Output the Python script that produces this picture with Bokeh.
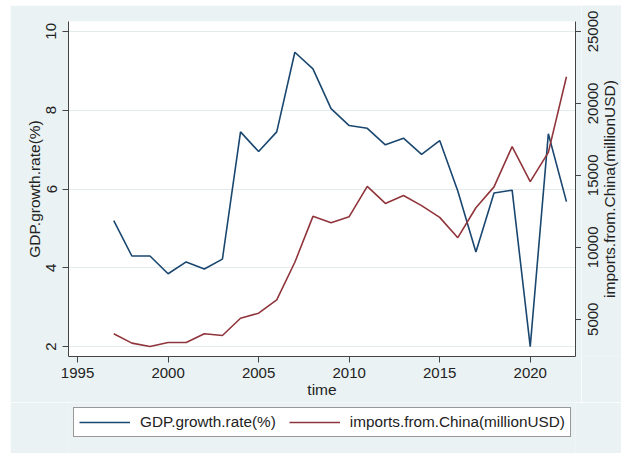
import math
from bokeh.plotting import figure
from bokeh.layouts import column, row
from bokeh.models import (Range1d, LinearAxis, FixedTicker, Legend, LegendItem,
                          ColumnDataSource, CustomJSTickFormatter)
from bokeh.core.properties import value
from bokeh.embed import file_html
from bokeh.resources import INLINE

years = list(range(1997, 2023))
gdp_growth = [5.2, 4.3, 4.3, 3.85, 4.15, 3.97, 4.22, 7.45, 6.95, 7.45, 9.47, 9.05, 8.04,
              7.61, 7.54, 7.12, 7.29, 6.88, 7.23, 5.95, 4.4, 5.9, 5.97, 2.0, 7.4, 5.68]
imports_china = [3990, 3340, 3100, 3380, 3380, 3990, 3870, 5070, 5420, 6350, 8960, 12150, 11700,
                 12130, 14240, 13050, 13600, 12900, 12080, 10670, 12750, 14200, 17000, 14560, 16600, 21850]
x_ticks = [1995, 2000, 2005, 2010, 2015, 2020]
left_ticks = [2, 4, 6, 8, 10]
right_ticks = [5000, 10000, 15000, 20000, 25000]
series_names = ["GDP.growth.rate(%)", "imports.from.China(millionUSD)"]
series_colors = ["#1a476f", "#90353b"]

FONT = "Liberation Sans"
BG = "#eaf2f3"
AXC = "#444444"
TXT = "#222222"

MAIN_W, MAIN_H = 571, 397
B_LEFT, B_RIGHT, B_TOP, B_BOTTOM = 58, 6, 16, 46
FRAME_H = MAIN_H - B_TOP - B_BOTTOM
SIDE_W = 40

src = ColumnDataSource(dict(year=years, gdp=gdp_growth, imp=imports_china))
imp_range = Range1d(2410, 25694)

p = figure(width=MAIN_W, height=MAIN_H, output_backend="svg", toolbar_location=None,
           x_range=Range1d(1994.5, 2022.5), y_range=Range1d(1.75, 10.25),
           min_border_left=B_LEFT, min_border_right=B_RIGHT, min_border_top=B_TOP,
           min_border_bottom=B_BOTTOM,
           background_fill_color="white", border_fill_color=BG, outline_line_color=None)
p.margin = (5, 0, 0, 10)
p.extra_y_ranges = {"imp": imp_range}

p.line("year", "gdp", source=src, line_color=series_colors[0], line_width=1.6)
p.line("year", "imp", source=src, y_range_name="imp", line_color=series_colors[1], line_width=1.6)

p.xaxis.axis_label = "time"
p.yaxis[0].axis_label = series_names[0]
p.xaxis.ticker = FixedTicker(ticks=x_ticks)
p.yaxis[0].ticker = FixedTicker(ticks=left_ticks)


def style_axis(ax):
    ax.axis_line_color = AXC
    ax.axis_line_width = 1
    ax.major_tick_line_color = AXC
    ax.major_tick_out = 6
    ax.major_tick_in = 0
    ax.minor_tick_line_color = None
    ax.major_label_text_font = FONT
    ax.major_label_text_font_size = "15px"
    ax.major_label_text_color = TXT
    ax.axis_label_text_font = FONT
    ax.axis_label_text_font_size = "15.5px"
    ax.axis_label_text_font_style = "normal"
    ax.axis_label_text_color = TXT
    ax.axis_label_standoff = 0


style_axis(p.xaxis[0])
style_axis(p.yaxis[0])
p.xaxis[0].major_label_standoff = 5
p.yaxis[0].major_label_standoff = 6
p.yaxis[0].axis_label_standoff = 1
p.yaxis[0].major_label_orientation = "vertical"

# right axis of the chart: line and ticks (its texts are set in the strip beside it)
r_axis = LinearAxis(y_range_name="imp", ticker=FixedTicker(ticks=right_ticks),
                    formatter=CustomJSTickFormatter(code="return ''"))
style_axis(r_axis)
r_axis.major_label_standoff = 0
p.add_layout(r_axis, "right")

p.xgrid.grid_line_color = None
p.ygrid.grid_line_color = "#e4ebed"
p.ygrid.grid_line_width = 1.2

# strip to the right: tick labels and title of the right axis, reading bottom-to-top
probe = figure(width=10, height=10)
can_unalign = "frame_align" in probe.properties()
if can_unalign:
    side_top = 0
    per_px = (imp_range.end - imp_range.start) / FRAME_H
    side_range = Range1d(imp_range.start, imp_range.end + B_TOP * per_px)
else:
    side_top = B_TOP
    side_range = imp_range

s = figure(width=SIDE_W, height=MAIN_H, output_backend="svg", toolbar_location=None,
           x_range=Range1d(0, SIDE_W), y_range=side_range,
           x_axis_location=None, y_axis_location=None,
           min_border_left=0, min_border_right=0, min_border_top=side_top,
           min_border_bottom=B_BOTTOM,
           background_fill_color=BG, border_fill_color=BG, outline_line_color=None)
if can_unalign:
    s.frame_align = False
s.margin = (5, 0, 0, 0)
s.xgrid.grid_line_color = None
s.ygrid.grid_line_color = None
lab_src = ColumnDataSource(dict(y=right_ticks, text=[str(t) for t in right_ticks],
                                x=[11] * len(right_ticks)))
s.text(x="x", y="y", text="text", source=lab_src, angle=math.pi / 2,
       text_align="center", text_baseline="alphabetic",
       text_font=value(FONT), text_font_size="15px", text_color=TXT)
title_src = ColumnDataSource(dict(x=[28], y=[(imp_range.start + imp_range.end) / 2],
                                  text=[series_names[1]]))
s.text(x="x", y="y", text="text", source=title_src, angle=math.pi / 2,
       text_align="center", text_baseline="alphabetic",
       text_font=value(FONT), text_font_size="15.5px", text_color=TXT)

# legend strip below the chart (its sample lines use the same data, outside this strip's ranges)
lf = figure(width=MAIN_W + SIDE_W, height=51, output_backend="svg", toolbar_location=None,
            x_range=Range1d(0, 1), y_range=Range1d(0, 1),
            x_axis_location=None, y_axis_location=None,
            min_border_left=B_LEFT, min_border_right=46, min_border_top=0, min_border_bottom=0,
            background_fill_color=BG, border_fill_color=BG, outline_line_color=None)
lf.margin = (0, 0, 0, 10)
lf.xgrid.grid_line_color = None
lf.ygrid.grid_line_color = None
items = []
for name, col, field in zip(series_names, series_colors, ["gdp", "imp"]):
    rr = lf.line("year", field, source=src, line_color=col, line_width=1.6)
    items.append(LegendItem(label=name, renderers=[rr]))

legend = Legend(items=items, orientation="horizontal", location="top_left")
legend.label_text_font = FONT
legend.label_text_font_size = "15.3px"
legend.label_text_color = TXT
legend.glyph_width = 51
legend.glyph_height = 16
legend.label_height = 16
legend.label_standoff = 10
legend.spacing = 13
legend.padding = 5
legend.margin = 5
legend.border_line_color = "#333333"
legend.border_line_width = 1
legend.background_fill_color = "white"
legend.background_fill_alpha = 1
lf.add_layout(legend, "center")

layout = column(row(p, s), lf)
open("out.html", "w").write(file_html(layout, INLINE))
